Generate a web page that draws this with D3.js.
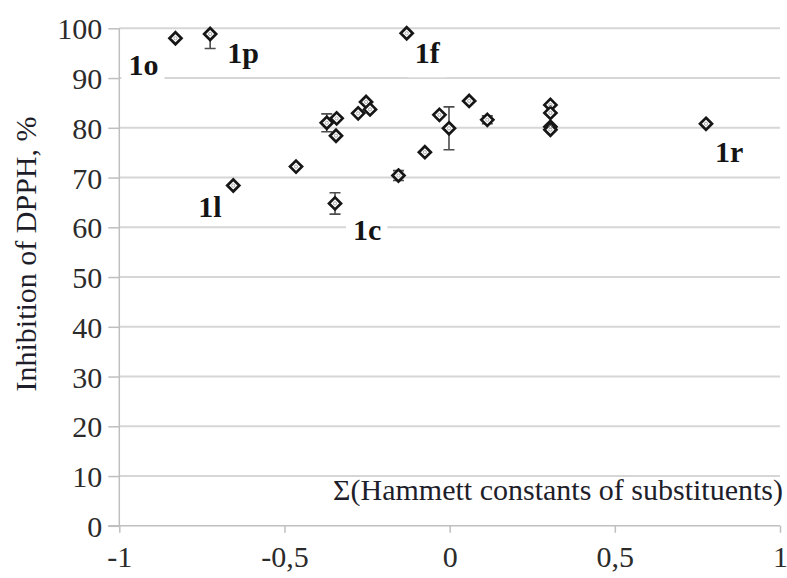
<!DOCTYPE html>
<html>
<head>
<meta charset="utf-8">
<script src="https://cdn.jsdelivr.net/npm/d3@7"></script>
<style>
  html, body { margin: 0; padding: 0; background: #fff; }
  svg { display: block; }
</style>
</head>
<body>
<svg id="chart" width="787" height="578"></svg>
<script>
// ---- data ----
const sigmaValues = [-0.83, -0.725, -0.13, -0.655, -0.465, -0.372, -0.342, -0.344, -0.347, -0.277, -0.253, -0.241, -0.155, -0.075, -0.031, -0.002, 0.059, 0.114, 0.305, 0.305, 0.305, 0.305, 0.776];
const inhibition = [98.0, 98.85, 99.0, 68.4, 72.2, 81.0, 81.9, 78.4, 64.8, 82.9, 85.2, 83.7, 70.4, 75.1, 82.6, 79.9, 85.4, 81.6, 84.6, 83.0, 80.2, 79.6, 80.8];
const errors = [0, 2.9, 0, 0, 0, 1.8, 0, 0, 2.15, 0, 0, 0, 1.0, 0, 0, 4.3, 0, 0.8, 0, 0, 0, 0, 0];
const pointNames = ["1o", "1p", "1f", "1l", "", "", "", "", "1c", "", "", "", "", "", "", "", "", "", "", "", "", "", "1r"];
const xTicks = [-1, -0.5, 0, 0.5, 1];
const xTickLabels = ["-1", "-0,5", "0", "0,5", "1"];
const yTicks = [0, 10, 20, 30, 40, 50, 60, 70, 80, 90, 100];
const xTitle = "\u03A3(Hammett constants of substituents)";
const yTitle = "Inhibition of DPPH, %";

// label placement (offset from point, px) and whether a white box hides gridlines
const labelStyle = {
  "1o": { dx: -47, dy: 37, box: true },
  "1p": { dx: 17, dy: 29, box: true },
  "1f": { dx: 8, dy: 30, box: true },
  "1l": { dx: -35, dy: 31, box: false },
  "1c": { dx: 18, dy: 37, box: true },
  "1r": { dx: 9, dy: 38, box: false }
};

// ---- layout ----
const svg = d3.select("#chart");
const plot = { left: 119.3, right: 780, top: 28.3, bottom: 525.8 };
const x = d3.scaleLinear().domain([-1, 1]).range([plot.left, plot.right]);
const y = d3.scaleLinear().domain([0, 100]).range([plot.bottom, plot.top]);
const serif = "'Liberation Serif', 'Times New Roman', serif";

svg.append("defs").append("clipPath").attr("id", "plotclip")
  .append("rect").attr("x", plot.left - 20).attr("y", plot.top)
  .attr("width", plot.right - plot.left + 40).attr("height", plot.bottom - plot.top);

// gridlines
svg.append("g").selectAll("line").data(yTicks.filter(d => d > 0)).join("line")
  .attr("x1", plot.left).attr("x2", plot.right)
  .attr("y1", d => y(d)).attr("y2", d => y(d))
  .attr("stroke", "#d6d6d6").attr("stroke-width", 2);

// y axis
const yAxis = d3.axisLeft(y).tickValues(yTicks).tickSize(11).tickPadding(6).tickFormat(d3.format("d"));
const gy = svg.append("g").attr("transform", `translate(${plot.left},0)`).call(yAxis);
gy.select(".domain").attr("stroke", "#bfbfbf").attr("stroke-width", 1.5).attr("d", `M0,${plot.top}V${plot.bottom}`);
gy.selectAll(".tick line").attr("stroke", "#bfbfbf").attr("stroke-width", 1.5);
gy.selectAll(".tick text").attr("font-family", serif).attr("font-size", 30).attr("fill", "#2b2b2b")
  .attr("dy", "0.35em");

// x axis
const xAxis = d3.axisBottom(x).tickValues(xTicks).tickSize(7).tickPadding(13)
  .tickFormat((d, i) => xTickLabels[i]);
const gx = svg.append("g").attr("transform", `translate(0,${plot.bottom})`).call(xAxis);
gx.select(".domain").attr("stroke", "#bfbfbf").attr("stroke-width", 1.5).attr("d", `M${plot.left - 11},0H${plot.right}`);
gx.selectAll(".tick line").attr("stroke", "#bfbfbf").attr("stroke-width", 1.5);
gx.selectAll(".tick text").attr("font-family", serif).attr("font-size", 30).attr("fill", "#2b2b2b")
  .attr("dy", "0.71em");

// axis titles
svg.append("text").attr("x", 783).attr("y", 500).attr("text-anchor", "end")
  .attr("font-family", serif).attr("font-size", 30).attr("fill", "#1e1e2a").text(xTitle);
svg.append("text").attr("transform", `translate(35.5,254) rotate(-90)`).attr("text-anchor", "middle")
  .attr("font-family", serif).attr("font-size", 30).attr("fill", "#1e1e2a").text(yTitle);

// data table
const pts = sigmaValues.map((s, i) => ({ s, v: inhibition[i], e: errors[i], name: pointNames[i] }));

// point label boxes and labels drawn first so markers stay on top
const lg = svg.append("g");
pts.filter(d => d.name).forEach(d => {
  const st = labelStyle[d.name];
  const g = lg.append("g");
  const t = g.append("text").attr("x", x(d.s) + st.dx).attr("y", y(d.v) + st.dy)
    .attr("font-family", serif).attr("font-size", 30).attr("font-weight", "bold")
    .attr("fill", "#141414").text(d.name);
  if (st.box) {
    const b = t.node().getBBox();
    g.insert("rect", "text").attr("x", b.x - 7).attr("y", b.y + 2)
      .attr("width", b.width + 13).attr("height", b.height + 6).attr("fill", "#fff");
  }
});

// error bars
const eg = svg.append("g").attr("clip-path", "url(#plotclip)").attr("stroke", "#4d4d4d").attr("stroke-width", 1.6);
pts.filter(d => d.e > 0).forEach(d => {
  const cx = x(d.s);
  eg.append("line").attr("x1", cx).attr("x2", cx).attr("y1", y(d.v - d.e)).attr("y2", y(d.v + d.e));
  [d.v - d.e, d.v + d.e].forEach(v => {
    eg.append("line").attr("x1", cx - 5.5).attr("x2", cx + 5.5).attr("y1", y(v)).attr("y2", y(v));
  });
});

// markers
const r = 6;
svg.append("g").selectAll("path").data(pts).join("path")
  .attr("transform", d => `translate(${x(d.s)},${y(d.v)})`)
  .attr("d", `M0,${-r}L${r},0L0,${r}L${-r},0Z`)
  .attr("fill", "#fff").attr("stroke", "#161616").attr("stroke-width", 2.7);
svg.append("g").selectAll("circle").data(pts).join("circle")
  .attr("cx", d => x(d.s)).attr("cy", d => y(d.v)).attr("r", 1.6)
  .attr("fill", "none").attr("stroke", "#9a9a9a").attr("stroke-width", 0.8);
</script>
</body>
</html>
